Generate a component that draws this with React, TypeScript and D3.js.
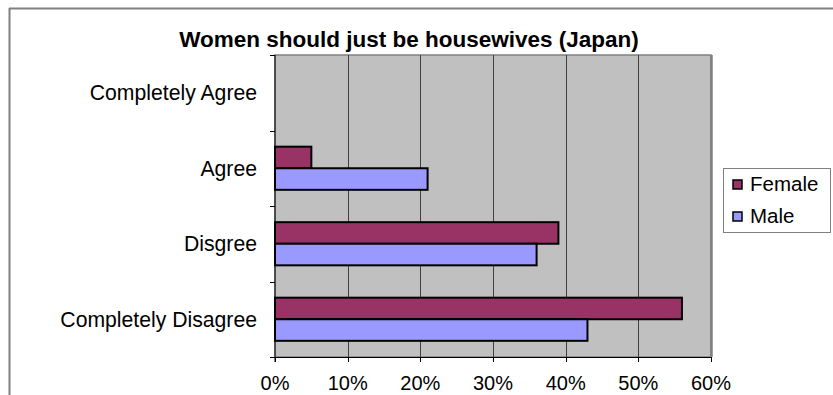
import React from "react";
import * as d3 from "d3";

const categories = ["Completely Agree", "Agree", "Disgree", "Completely Disagree"];
const femaleValues = [0, 5, 39, 56];
const maleValues = [0, 21, 36, 43];
const seriesNames = ["Female", "Male"];
const seriesColors = ["#993366", "#9999FF"];
const xTicks = [0, 10, 20, 30, 40, 50, 60];
const title = "Women should just be housewives (Japan)";

export default function App() {
  const W = 833, H = 395;
  const left = 275, right = 711, top = 55, bottom = 357;
  const x = d3.scaleLinear().domain([0, 60]).range([left, right]);
  const y = d3.scaleBand<string>().domain(categories).range([top, bottom]).paddingInner(0).paddingOuter(0);
  const band = y.bandwidth();
  const barH = band / 3.5;
  const series = [femaleValues, maleValues];
  const font = "'Liberation Sans', Arial, sans-serif";

  return (
    <svg width={W} height={H} style={{ position: "absolute", left: 0, top: 0, display: "block" }}>
      <rect x={0} y={0} width={W} height={H} fill="#fff" />
      {/* outer frame */}
      <line x1={9.5} y1={8} x2={9.5} y2={H} stroke="#808080" strokeWidth={2} />
      <line x1={9} y1={8.5} x2={W} y2={8.5} stroke="#808080" strokeWidth={2} />
      <text x={409} y={46.5} textAnchor="middle" fontFamily={font} fontWeight="bold" fontSize={22.5} fill="#000">{title}</text>
      {/* plot area */}
      <rect x={left} y={top} width={right - left} height={bottom - top} fill="#C0C0C0" stroke="#808080" strokeWidth={1.5} />
      <line x1={right + 0.5} y1={top} x2={right + 0.5} y2={bottom} stroke="#808080" strokeWidth={2.5} />
      {xTicks.slice(1, -1).map((t) => (
        <line key={t} x1={Math.round(x(t)) + 0.5} y1={top} x2={Math.round(x(t)) + 0.5} y2={bottom} stroke="#404040" strokeWidth={1} />
      ))}
      {/* bars */}
      {categories.map((c, i) => {
        const cy = (y(c) as number) + band / 2;
        return series.map((vals, s) => {
          const v = vals[i];
          if (v <= 0) return null;
          const by = cy - barH + s * barH;
          return (
            <rect key={c + s} x={x(0)} y={by} width={x(v) - x(0)} height={barH}
              fill={seriesColors[s]} stroke="#000" strokeWidth={2} />
          );
        });
      })}
      {/* axes */}
      <line x1={left} y1={top} x2={left} y2={bottom + 5} stroke="#000" strokeWidth={1} />
      <line x1={left} y1={bottom + 0.5} x2={right} y2={bottom + 0.5} stroke="#000" strokeWidth={1} />
      {categories.map((c, i) => (
        <line key={"yt" + i} x1={left - 5} y1={Math.round((y(c) as number)) + 0.5} x2={left} y2={Math.round((y(c) as number)) + 0.5} stroke="#000" strokeWidth={1} />
      ))}
      <line x1={left - 5} y1={bottom + 0.5} x2={left} y2={bottom + 0.5} stroke="#000" strokeWidth={1} />
      {xTicks.map((t) => (
        <line key={"xt" + t} x1={Math.round(x(t)) + 0.5} y1={bottom} x2={Math.round(x(t)) + 0.5} y2={bottom + 5} stroke="#000" strokeWidth={1} />
      ))}
      {xTicks.map((t) => (
        <text key={"xl" + t} x={x(t)} y={390} textAnchor="middle" fontFamily={font} fontSize={20} fill="#000">{t + "%"}</text>
      ))}
      {categories.map((c) => (
        <text key={"yl" + c} x={257} y={(y(c) as number) + band / 2 + 7.3} textAnchor="end" fontFamily={font} fontSize={21.2} fill="#000">{c}</text>
      ))}
      {/* legend */}
      <rect x={723.5} y={168.5} width={107} height={64} fill="#fff" stroke="#808080" strokeWidth={1} />
      {seriesNames.map((n, i) => (
        <g key={n}>
          <rect x={733} y={180 + i * 32} width={9} height={9} fill={seriesColors[i]} stroke="#000" strokeWidth={1.5} />
          <text x={750} y={191 + i * 32} fontFamily={font} fontSize={20.5} fill="#000">{n}</text>
        </g>
      ))}
    </svg>
  );
}
